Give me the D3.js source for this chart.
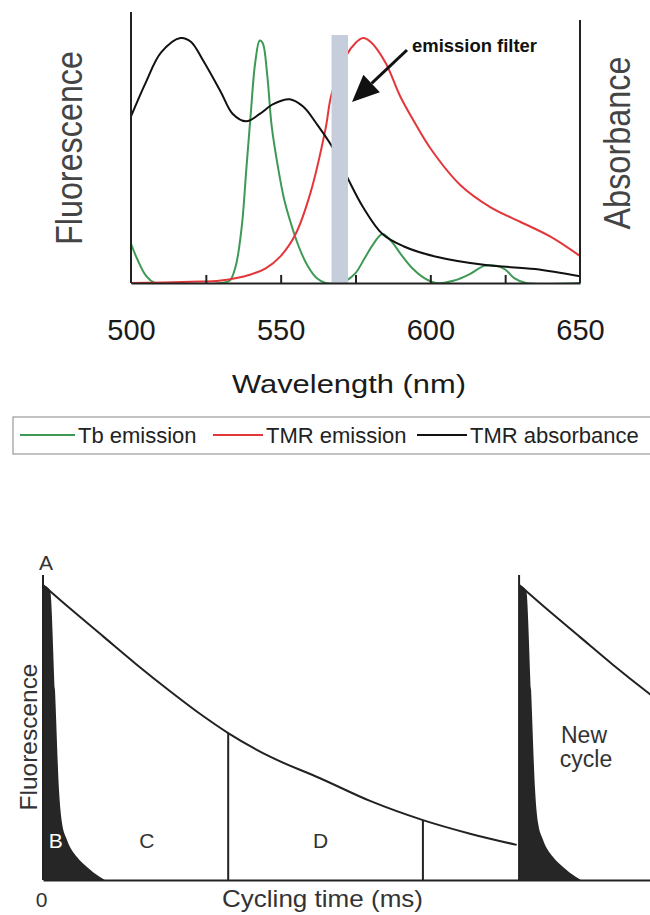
<!DOCTYPE html>
<html>
<head>
<meta charset="utf-8">
<script src="https://cdn.jsdelivr.net/npm/d3@7"></script>
<style>
  body { margin: 0; background: #fff; }
  svg { display: block; font-family: "Liberation Sans", Arial, sans-serif; }
</style>
</head>
<body>
<svg id="chart" width="650" height="915"></svg>
<script>
"use strict";

// top panel: spectra, [wavelength nm, normalised value]
var tbEmission = [
  [500, 0.16], [502, 0.10], [505, 0.03], [508, 0.0], [530, 0.0], [533, 0.01],
  [535, 0.07], [537, 0.23], [538.5, 0.46], [540, 0.69], [541.5, 0.90], [543, 0.99],
  [544, 0.98], [545.5, 0.85], [547, 0.64], [549, 0.48], [551, 0.35], [553, 0.26],
  [556, 0.15], [559, 0.07], [562, 0.02], [565, 0.0], [570, 0.0], [572, 0.01],
  [575, 0.04], [578, 0.10], [581, 0.16], [584, 0.20], [587, 0.17], [590, 0.12],
  [594, 0.06], [598, 0.02], [602, 0.0], [608, 0.01], [613, 0.035], [618, 0.07],
  [622, 0.07], [625, 0.055], [628, 0.02], [632, 0.0], [650, 0.0]
];
var tmrEmission = [
  [500, 0.0], [520, 0.005], [530, 0.01], [540, 0.035], [545, 0.06], [550, 0.11],
  [555, 0.20], [560, 0.37], [565, 0.63], [567, 0.77], [572, 0.93], [575, 0.98],
  [577.5, 1.0], [580, 0.985], [585, 0.90], [590, 0.76], [595, 0.65], [600, 0.55],
  [610, 0.40], [620, 0.31], [630, 0.25], [640, 0.19], [650, 0.11]
];
var tmrAbsorbance = [
  [500, 0.68], [505, 0.82], [510, 0.94], [516.5, 1.0], [520, 0.985], [524, 0.91],
  [530, 0.78], [534, 0.69], [538.5, 0.66], [543, 0.69], [547.5, 0.73], [553, 0.75],
  [557.5, 0.72], [562, 0.65], [567, 0.56], [572.3, 0.43], [577.5, 0.31], [584, 0.20],
  [591, 0.15], [602, 0.107], [618.5, 0.073], [635, 0.057], [650, 0.027]
];
var filterBand = [567, 572.5];
var minorTicks = [525, 550, 575, 600, 625];
var tickLabels = [500, 550, 600, 650];
var legendItems = [
  { name: "Tb emission", color: "#3d9a55" },
  { name: "TMR emission", color: "#e3363a" },
  { name: "TMR absorbance", color: "#111" }
];

// bottom panel: cycling time (ms), fluorescence
var cyclePeriod = 1.0;
var slowDecay = [
  [0, 1.0], [0.057, 0.92], [0.127, 0.825], [0.197, 0.73], [0.267, 0.64],
  [0.337, 0.555], [0.389, 0.498], [0.477, 0.418], [0.582, 0.345], [0.687, 0.268],
  [0.798, 0.203], [0.897, 0.157], [0.995, 0.119]
];
var fastDecay = [
  [0, 1.0], [0.0147, 0.983], [0.0252, 0.644], [0.0336, 0.305], [0.0399, 0.193],
  [0.0504, 0.136], [0.0714, 0.078], [0.0924, 0.044], [0.1197, 0.010], [0.13, 0.0]
];
var gates = [[0.389, 0.498], [0.798, 0.203]];
var regionLabels = [
  { text: "B", t: 0.027, v: 0.108, fill: "#fff" },
  { text: "C", t: 0.218, v: 0.108, fill: "#333" },
  { text: "D", t: 0.583, v: 0.108, fill: "#333" }
];

var svg = d3.select("#chart");

// ---------- top panel ----------
var x = d3.scaleLinear().domain([500, 650]).range([131, 580]);
var y = d3.scaleLinear().domain([0, 1]).range([283, 38]);

var spectra = svg.append("g");

spectra.append("defs").append("clipPath").attr("id", "plotclip")
  .append("rect")
  .attr("x", x(500)).attr("y", 0)
  .attr("width", x(650) - x(500)).attr("height", y(0) + 1);

var line = d3.line()
  .x(d => x(d[0]))
  .y(d => y(d[1]))
  .curve(d3.curveCatmullRom.alpha(0.5));

var curves = spectra.append("g").attr("clip-path", "url(#plotclip)");
[[tbEmission, legendItems[0].color], [tmrEmission, legendItems[1].color], [tmrAbsorbance, legendItems[2].color]]
  .forEach(function(s) {
    curves.append("path")
      .datum(s[0])
      .attr("d", line)
      .attr("fill", "none")
      .attr("stroke", s[1])
      .attr("stroke-width", 2)
      .attr("stroke-linejoin", "round");
  });

// emission filter band drawn over the curves
spectra.append("rect")
  .attr("x", x(filterBand[0]))
  .attr("y", 35)
  .attr("width", x(filterBand[1]) - x(filterBand[0]))
  .attr("height", y(0) - 35)
  .attr("fill", "#c6cddb");

// frame: left and right verticals, bottom axis with inward ticks
spectra.append("line")
  .attr("x1", x(500)).attr("x2", x(500)).attr("y1", 12).attr("y2", y(0))
  .attr("stroke", "#222").attr("stroke-width", 2);
spectra.append("line")
  .attr("x1", x(650)).attr("x2", x(650)).attr("y1", 20).attr("y2", y(0))
  .attr("stroke", "#222").attr("stroke-width", 2);

var xAxis = spectra.append("g")
  .attr("transform", "translate(0," + y(0) + ")")
  .call(d3.axisBottom(x).tickValues(minorTicks).tickSizeInner(-8).tickSizeOuter(0).tickFormat(""));
xAxis.select(".domain").attr("stroke", "#222").attr("stroke-width", 2);
xAxis.selectAll(".tick line").attr("stroke", "#222").attr("stroke-width", 2);

var labelAxis = spectra.append("g")
  .attr("transform", "translate(0," + y(0) + ")")
  .call(d3.axisBottom(x).tickValues(tickLabels).tickSize(0).tickFormat(d3.format("d")));
labelAxis.select(".domain").remove();
labelAxis.selectAll("text")
  .attr("y", 57).attr("dy", null)
  .attr("font-size", 29)
  .attr("font-family", "Liberation Sans, Arial, sans-serif")
  .attr("fill", "#1a1a1a");

spectra.append("text")
  .attr("x", 232).attr("y", 393)
  .attr("font-size", 26)
  .attr("textLength", 234).attr("lengthAdjust", "spacingAndGlyphs")
  .attr("fill", "#1a1a1a")
  .text("Wavelength (nm)");

spectra.append("text")
  .attr("transform", "translate(82,148) rotate(-90)")
  .attr("text-anchor", "middle")
  .attr("font-size", 36)
  .attr("textLength", 194).attr("lengthAdjust", "spacingAndGlyphs")
  .attr("fill", "#444")
  .text("Fluorescence");

spectra.append("text")
  .attr("transform", "translate(630,143) rotate(-90)")
  .attr("text-anchor", "middle")
  .attr("font-size", 36)
  .attr("textLength", 173).attr("lengthAdjust", "spacingAndGlyphs")
  .attr("fill", "#444")
  .text("Absorbance");

// annotation arrow
var tip = [352, 102], tail = [407, 50];
var dx = tip[0] - tail[0], dy = tip[1] - tail[1], len = Math.hypot(dx, dy);
var ux = dx / len, uy = dy / len, headLen = 27, headW = 12;
var bx = tip[0] - ux * headLen, by = tip[1] - uy * headLen;
spectra.append("line")
  .attr("x1", tail[0]).attr("y1", tail[1]).attr("x2", bx).attr("y2", by)
  .attr("stroke", "#111").attr("stroke-width", 3);
spectra.append("path")
  .attr("d", "M" + tip[0] + "," + tip[1] +
    "L" + (bx - uy * headW) + "," + (by + ux * headW) +
    "L" + (bx + uy * headW) + "," + (by - ux * headW) + "Z")
  .attr("fill", "#111");
spectra.append("text")
  .attr("x", 412).attr("y", 52)
  .attr("font-size", 18).attr("font-weight", "bold")
  .attr("textLength", 125).attr("lengthAdjust", "spacingAndGlyphs")
  .attr("fill", "#111")
  .text("emission filter");

// legend
var legend = svg.append("g");
legend.append("rect")
  .attr("x", 13).attr("y", 417).attr("width", 660).attr("height", 37)
  .attr("fill", "none").attr("stroke", "#999").attr("stroke-width", 1.2);
var legendX = [20, 213, 417];
var legendLine = [55, 50, 50];
legendItems.forEach(function(item, i) {
  legend.append("line")
    .attr("x1", legendX[i]).attr("x2", legendX[i] + legendLine[i])
    .attr("y1", 435).attr("y2", 435)
    .attr("stroke", item.color).attr("stroke-width", 2);
  legend.append("text")
    .attr("x", legendX[i] + legendLine[i] + 3).attr("y", 443)
    .attr("font-size", 22)
    .attr("fill", "#222")
    .text(item.name);
});

// ---------- bottom panel ----------
var tx = d3.scaleLinear().domain([0, 1.275]).range([43, 650]);
var ty = d3.scaleLinear().domain([0, 1]).range([880, 585]);
var axisTopValue = 1.034;

var cycles = svg.append("g");

var fastArea = d3.area()
  .x(d => tx(d[0]))
  .y0(ty(0))
  .y1(d => ty(d[1]))
  .curve(d3.curveMonotoneX);

var decayLine = d3.line()
  .x(d => tx(d[0]))
  .y(d => ty(d[1]))
  .curve(d3.curveMonotoneX);

[0, cyclePeriod].forEach(function(offset) {
  var shiftedFast = fastDecay.map(d => [d[0] + offset, d[1]]);
  var shiftedSlow = slowDecay.map(d => [d[0] + offset, d[1]]);
  cycles.append("path")
    .datum(shiftedFast)
    .attr("d", fastArea)
    .attr("fill", "#262626");
  cycles.append("line")
    .attr("x1", tx(offset)).attr("x2", tx(offset))
    .attr("y1", ty(axisTopValue)).attr("y2", ty(0))
    .attr("stroke", "#222").attr("stroke-width", 2);
  cycles.append("path")
    .datum(shiftedSlow)
    .attr("d", decayLine)
    .attr("fill", "none")
    .attr("stroke", "#222").attr("stroke-width", 2);
});

cycles.selectAll("line.gate")
  .data(gates)
  .enter()
  .append("line")
  .attr("class", "gate")
  .attr("x1", d => tx(d[0])).attr("x2", d => tx(d[0]))
  .attr("y1", d => ty(d[1])).attr("y2", ty(0))
  .attr("stroke", "#222").attr("stroke-width", 2);

var tAxis = cycles.append("g")
  .attr("transform", "translate(0," + ty(0) + ")")
  .call(d3.axisBottom(tx).tickValues([0]).tickSize(0).tickFormat(d3.format("d")));
tAxis.select(".domain").attr("stroke", "#222").attr("stroke-width", 2);
tAxis.selectAll("text")
  .attr("x", -2).attr("y", 27).attr("dy", null)
  .attr("font-size", 21)
  .attr("font-family", "Liberation Sans, Arial, sans-serif")
  .attr("fill", "#333");

cycles.append("text")
  .attr("x", 222).attr("y", 907)
  .attr("font-size", 24)
  .attr("textLength", 201).attr("lengthAdjust", "spacingAndGlyphs")
  .attr("fill", "#333")
  .text("Cycling time (ms)");

cycles.append("text")
  .attr("transform", "translate(37,737) rotate(-90)")
  .attr("text-anchor", "middle")
  .attr("font-size", 24)
  .attr("textLength", 147).attr("lengthAdjust", "spacingAndGlyphs")
  .attr("fill", "#333")
  .text("Fluorescence");

cycles.append("text")
  .attr("x", tx(0) + 3).attr("y", 570)
  .attr("text-anchor", "middle")
  .attr("font-size", 21)
  .attr("fill", "#333")
  .text("A");

cycles.selectAll("text.region")
  .data(regionLabels)
  .enter()
  .append("text")
  .attr("class", "region")
  .attr("x", d => tx(d.t)).attr("y", d => ty(d.v))
  .attr("text-anchor", "middle")
  .attr("font-size", 21)
  .attr("fill", d => d.fill)
  .text(d => d.text);

var newCycle = cycles.append("text")
  .attr("text-anchor", "middle")
  .attr("font-size", 23)
  .attr("fill", "#333");
newCycle.append("tspan").attr("x", 584).attr("y", 743).text("New");
newCycle.append("tspan").attr("x", 586).attr("y", 767).text("cycle");
</script>
</body>
</html>
